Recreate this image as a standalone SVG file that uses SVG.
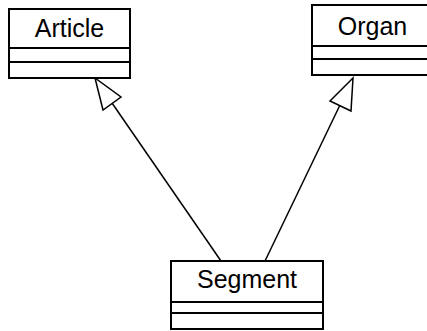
<svg xmlns="http://www.w3.org/2000/svg" width="427" height="331" viewBox="0 0 427 331">
<style>
.box{fill:#fff;stroke:#000;stroke-width:2}
.sep{stroke:#000;stroke-width:2}
.lbl{font-family:"Liberation Sans",Arial,sans-serif;font-size:25px;fill:#000;text-anchor:middle}
.edge{stroke:#000;stroke-width:1.5;fill:none}
.head{fill:#fff;stroke:#000;stroke-width:1.5;stroke-linejoin:miter}
</style>
<rect width="427" height="331" fill="#fff"/>
<g id="connectors">
<line class="edge" x1="221" y1="261" x2="112" y2="103"/>
<polygon class="head" points="95,78 103,110 121,97"/>
<line class="edge" x1="265" y1="261" x2="340" y2="105"/>
<polygon class="head" points="353,78 330,101 351,111"/>
</g>
<g id="Article">
<rect class="box" x="9" y="9" width="121" height="69"/>
<line class="sep" x1="9" y1="48" x2="130" y2="48"/>
<line class="sep" x1="9" y1="62" x2="130" y2="62"/>
<text class="lbl" x="69.5" y="37">Article</text>
</g>
<g id="Organ">
<rect class="box" x="312" y="5" width="125" height="70"/>
<line class="sep" x1="312" y1="46" x2="427" y2="46"/>
<line class="sep" x1="312" y1="59" x2="427" y2="59"/>
<text class="lbl" x="372.5" y="35">Organ</text>
</g>
<g id="Segment">
<rect class="box" x="171" y="261" width="152" height="68"/>
<line class="sep" x1="171" y1="302" x2="323" y2="302"/>
<line class="sep" x1="171" y1="313" x2="323" y2="313"/>
<text class="lbl" x="247" y="288">Segment</text>
</g>
</svg>
